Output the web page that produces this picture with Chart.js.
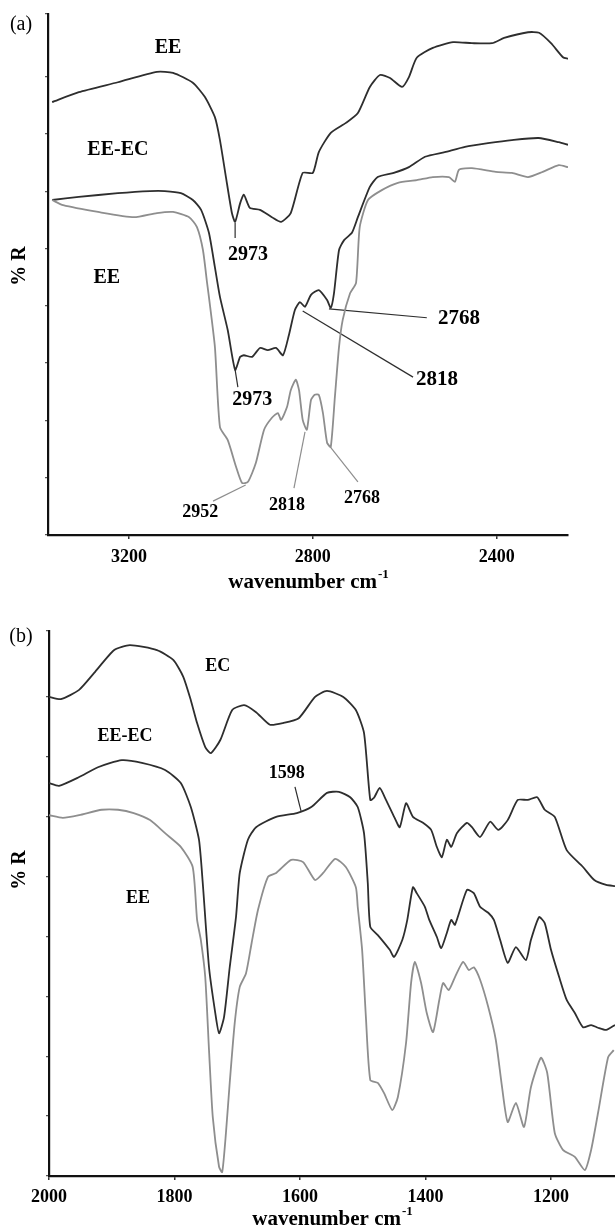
<!DOCTYPE html>
<html><head><meta charset="utf-8">
<script src="https://cdn.jsdelivr.net/npm/chart.js@4.4.0/dist/chart.umd.min.js"></script>
<style>
html,body{margin:0;padding:0;background:#fff;width:615px;height:1231px;overflow:hidden}
canvas{position:absolute;left:0}
#ca{top:0}
#cb{top:605px}
</style></head><body>
<canvas id="ca" width="615" height="605"></canvas>
<canvas id="cb" width="615" height="626"></canvas>
<script>
// ---------- Panel (a): 3375 - 2245 cm-1 ----------
const aTicks = [3200, 2800, 2400];
const aEE_w = [3367,3309,3224,3139,3104,3061,3035,3013,3002,2989,2976,2969,2958,2950,2937,2915,2889,2869,2848,2822,2800,2787,2761,2728,2702,2676,2654,2632,2606,2591,2574,2539,2495,2454,2410,2384,2332,2308,2282,2256,2245];
const aEE_r = [83.1,85.0,86.9,88.9,88.7,86.8,84.1,80.2,75.8,68.7,61.8,60.1,63.7,65.3,62.8,62.4,61.0,60.1,61.8,69.5,69.5,73.5,77.2,79.1,81.0,86.0,88.3,87.7,86.0,87.9,91.6,93.5,94.6,94.4,94.4,95.4,96.5,96.4,94.4,91.7,91.4];
const aEEEC_w = [3367,3309,3224,3154,3122,3087,3061,3043,3026,3013,3002,2985,2969,2958,2950,2932,2915,2898,2880,2865,2852,2839,2828,2817,2804,2787,2769,2761,2754,2743,2732,2715,2702,2676,2659,2624,2591,2556,2513,2469,2419,2367,2309,2265,2245];
const aEEEC_r = [64.3,64.9,65.6,66.0,66.0,65.6,64.3,62.4,58.0,51.4,45.7,39.3,31.7,34.2,34.5,34.2,35.9,35.5,35.9,34.5,38.4,43.2,44.7,43.8,46.1,47.0,45.1,43.6,46.4,54.7,56.6,58.0,61.0,66.8,68.7,69.5,70.6,72.6,73.5,74.5,75.2,75.8,76.2,75.4,74.9];
const aEE2_w = [3367,3343,3267,3189,3139,3104,3069,3052,3039,3030,3026,3013,3002,2985,2967,2954,2941,2924,2906,2889,2876,2869,2856,2848,2837,2830,2822,2813,2804,2796,2787,2778,2769,2761,2752,2743,2735,2719,2706,2698,2680,2650,2615,2574,2539,2504,2491,2482,2454,2402,2367,2332,2300,2265,2245];
const aEE2_r = [64.3,63.3,62.0,61.0,61.8,62.0,61.0,59.1,54.7,48.4,45.7,36.1,20.7,18.2,13.1,10.0,10.2,13.8,20.2,22.5,23.4,22.1,24.6,27.8,29.8,27.8,22.1,20.2,25.9,26.9,26.9,23.4,17.7,16.9,26.5,36.1,41.3,46.4,48.4,59.1,64.3,66.2,67.6,68.1,68.7,68.7,67.8,70.1,70.4,69.7,69.5,68.7,69.7,71.0,70.6];
// peak annotations (a)
const aAnnText = ['2973','2973','2768','2818','2952','2818','2768'];
const aAnnTx   = [2941,2932,2482,2530,3045,2856,2693];
const aAnnTy   = [53.7,25.9,41.5,29.9,4.4,5.6,7.1];
const aAnnX0   = [2969,2969,2765,2822,3017,2841,2769];
const aAnnY0   = [59.9,31.7,43.4,43.0,6.5,9.0,17.7];
const aAnnX1   = [2969,2963,2552,2582,2946,2817,2702];
const aAnnY1   = [57.0,28.4,41.7,30.3,9.6,19.8,10.2];
const aSeriesNames = ['EE','EE-EC','EE'];
const aSeriesTx = [3115,3224,3248];
const aSeriesTy = [93.5,73.9,49.3];

// ---------- Panel (b): 2000 - 1098 cm-1 ----------
const bTicks = [2000, 1800, 1600, 1400, 1200];
const bEC_w = [2000,1981,1952,1928,1896,1871,1828,1802,1786,1774,1764,1751,1742,1727,1708,1689,1670,1648,1627,1602,1576,1557,1531,1511,1498,1488,1482,1473,1463,1450,1441,1431,1420,1404,1391,1382,1374,1366,1359,1350,1334,1326,1313,1297,1284,1269,1253,1237,1222,1210,1194,1175,1149,1131,1112,1098];
const bEC_r = [87.9,87.5,89.2,92.3,96.5,97.4,96.5,94.7,91.6,87.3,83.1,78.7,77.6,80.0,85.5,86.4,85.1,82.8,83.1,84.0,87.9,89.0,87.9,85.5,81.3,69.0,69.4,71.2,69.0,65.9,64.0,68.4,65.9,64.8,63.5,60.4,58.5,61.7,60.4,62.9,64.8,64.0,62.2,65.0,63.5,65.3,69.0,69.0,69.5,67.2,65.9,59.8,56.7,54.3,53.4,53.2];
const bEEEC_w = [2000,1984,1952,1922,1884,1852,1815,1790,1774,1761,1755,1745,1735,1729,1721,1712,1702,1696,1683,1670,1638,1605,1582,1557,1538,1520,1508,1498,1492,1488,1476,1457,1450,1437,1429,1420,1414,1401,1394,1382,1375,1366,1359,1353,1334,1323,1313,1300,1291,1281,1269,1256,1240,1232,1219,1210,1200,1187,1175,1162,1149,1136,1125,1112,1098];
const bEEEC_r = [72.1,71.6,73.2,75.0,76.3,75.8,74.5,72.1,67.7,61.7,53.8,38.3,29.9,26.2,29.2,38.3,47.5,55.6,61.7,64.0,65.9,66.6,67.7,70.3,70.5,69.5,67.7,62.9,53.8,45.7,44.2,41.5,40.2,43.3,47.0,53.0,51.9,49.4,47.0,43.9,41.8,44.6,47.0,46.1,52.5,51.9,49.4,48.3,47.0,43.3,39.1,42.0,39.6,43.3,47.5,46.4,41.5,36.5,32.3,29.9,27.3,27.7,27.2,26.8,27.7];
const bEE_w = [2000,1978,1952,1916,1890,1865,1839,1815,1790,1771,1764,1758,1751,1745,1739,1729,1724,1718,1712,1704,1696,1686,1677,1667,1651,1638,1614,1595,1576,1563,1544,1527,1511,1508,1501,1495,1488,1476,1466,1453,1444,1431,1423,1417,1407,1398,1388,1378,1372,1363,1353,1340,1331,1323,1313,1300,1288,1278,1269,1256,1243,1232,1216,1206,1194,1181,1162,1146,1136,1125,1109,1100];
const bEE_r = [66.2,65.7,66.2,67.2,67.2,66.6,65.3,62.9,60.4,56.7,47.0,43.3,36.5,23.1,10.8,1.7,0.7,7.9,17.1,28.1,34.7,37.2,42.8,48.8,54.9,55.6,58.0,57.6,54.3,55.6,58.2,56.7,53.0,49.4,41.5,29.2,17.6,17.1,15.2,12.1,14.5,24.4,35.4,39.3,35.4,29.9,26.4,32.3,35.4,34.1,36.5,39.3,37.8,38.3,36.0,31.0,25.0,16.3,9.9,13.4,9.0,16.3,21.7,18.9,7.9,4.8,3.5,1.1,4.8,11.6,21.8,23.1];
const bAnnText = ['1598'];
const bAnnTx = [1621];
const bAnnTy = [73.9];
const bAnnX0 = [1608];
const bAnnY0 = [71.4];
const bAnnX1 = [1598];
const bAnnY1 = [66.8];
const bSeriesNames = ['EC','EE-EC','EE'];
const bSeriesTx = [1731,1879,1858];
const bSeriesTy = [93.6,80.6,51.0];

// ---------- helpers ----------
const DARK = '#2e2e2e', GRAY = '#8e8e8e';
const SERIF = '"Liberation Serif","Times New Roman",serif';

function pts(w, r){ return w.map((x,i)=>({x:x, y:r[i]})); }
function spectrum(w, r, color){
  return {data: pts(w,r), borderColor: color, borderWidth: 1.8, pointRadius: 0, tension: 0.2, fill: false};
}
function pointers(x0,y0,x1,y1,colors){
  return x0.map((_,i)=>({data:[{x:x0[i],y:y0[i]},{x:x1[i],y:y1[i]}], borderColor: colors[i], borderWidth: 1.2, pointRadius: 0, tension: 0, fill:false}));
}

const textPlugin = {
  id: 'texts',
  afterDraw(chart, args, o){
    const ctx = chart.ctx, xs = chart.scales.x, ys = chart.scales.y, ca = chart.chartArea;
    ctx.save();
    ctx.fillStyle = '#000';
    ctx.textAlign = 'center'; ctx.textBaseline = 'middle';
    (o.items||[]).forEach(it=>{
      ctx.font = it.font;
      ctx.fillText(it.text, xs.getPixelForValue(it.x), ys.getPixelForValue(it.y));
    });
    // panel letter
    ctx.font = '20px ' + SERIF;
    ctx.fillText(o.letter, o.letterX, o.letterY);
    // y title (rotated)
    ctx.save();
    ctx.translate(o.yTitleX, o.yTitleY);
    ctx.rotate(-Math.PI/2);
    ctx.font = 'bold 20px ' + SERIF;
    ctx.fillText('% R', 0, 0);
    ctx.restore();
    // x title with superscript
    ctx.textBaseline = 'alphabetic';
    ctx.textAlign = 'left';
    ctx.font = 'bold 21px ' + SERIF;
    const main = 'wavenumber cm';
    const wm = ctx.measureText(main).width;
    ctx.font = 'bold 13px ' + SERIF;
    const sup = '-1';
    const ws = ctx.measureText(sup).width;
    const cx = (ca.left + ca.right)/2;
    const x0 = cx - (wm + ws)/2;
    ctx.font = 'bold 21px ' + SERIF;
    ctx.fillText(main, x0, o.xTitleBase);
    ctx.font = 'bold 13px ' + SERIF;
    ctx.fillText(sup, x0 + wm + 1, o.xTitleBase - 10);
    ctx.restore();
  }
};

function makeItems(names, tx, ty, nfont, at, ax, ay, afonts){
  const items = names.map((n,i)=>({text:n, x:tx[i], y:ty[i], font:nfont}));
  at.forEach((t,i)=>items.push({text:t, x:ax[i], y:ay[i], font:afonts[i]}));
  return items;
}

function makeChart(id, cfg){
  return new Chart(document.getElementById(id), {
    type: 'line',
    data: {datasets: cfg.datasets},
    plugins: [textPlugin],
    options: {
      responsive: false, animation: false, devicePixelRatio: 1,
      layout: {padding: cfg.padding},
      plugins: {legend:{display:false}, tooltip:{enabled:false}, texts: cfg.texts},
      scales: {
        x: {
          type: 'linear', reverse: true, min: cfg.xmin, max: cfg.xmax,
          afterBuildTicks: s => { s.ticks = cfg.ticks.map(v=>({value:v})); },
          afterFit: s => { s.height = cfg.xh; },
          border: {display:true, color:'#111', width:2.2},
          grid: {display:true, drawOnChartArea:false, drawTicks:true, tickLength:4, color:'#333', lineWidth:1.5},
          ticks: {color:'#000', font:{family:SERIF, size:18, weight:'bold'}, padding: cfg.tpad, maxRotation:0, autoSkip:false,
                  callback: v => String(v)}
        },
        y: {
          min: 0, max: 100,
          afterFit: s => { s.width = cfg.yw; },
          border: {display:true, color:'#111', width:2.2},
          grid: {display:true, drawOnChartArea:false, drawTicks:true, tickLength:3, color:'#555', lineWidth:1.2},
          ticks: {display:false, stepSize: 11}
        }
      }
    }
  });
}

makeChart('ca', {
  xmin: 2245, xmax: 3376, ticks: aTicks, xh: 70, yw: 48, tpad: 8,
  padding: {left:0, right:47, top:14, bottom:0},
  datasets: [
    spectrum(aEE2_w, aEE2_r, GRAY),
    spectrum(aEEEC_w, aEEEC_r, DARK),
    spectrum(aEE_w, aEE_r, DARK),
    ...pointers(aAnnX0, aAnnY0, aAnnX1, aAnnY1, [DARK,DARK,DARK,DARK,GRAY,GRAY,GRAY])
  ],
  texts: {
    items: makeItems(aSeriesNames, aSeriesTx, aSeriesTy, 'bold 20px '+SERIF, aAnnText, aAnnTx, aAnnTy,
      ['bold 20px '+SERIF,'bold 20px '+SERIF,'bold 21px '+SERIF,'bold 21px '+SERIF,'bold 18px '+SERIF,'bold 18px '+SERIF,'bold 18px '+SERIF]),
    letter: '(a)', letterX: 21, letterY: 25, yTitleX: 20, yTitleY: 266, xTitleBase: 588
  }
});

makeChart('cb', {
  xmin: 1098, xmax: 2000, ticks: bTicks, xh: 55, yw: 49, tpad: 7,
  padding: {left:0, right:0, top:26, bottom:0},
  datasets: [
    spectrum(bEE_w, bEE_r, GRAY),
    spectrum(bEEEC_w, bEEEC_r, DARK),
    spectrum(bEC_w, bEC_r, DARK),
    ...pointers(bAnnX0, bAnnY0, bAnnX1, bAnnY1, [DARK])
  ],
  texts: {
    items: makeItems(bSeriesNames, bSeriesTx, bSeriesTy, 'bold 18px '+SERIF, bAnnText, bAnnTx, bAnnTy, ['bold 18px '+SERIF]),
    letter: '(b)', letterX: 21, letterY: 32, yTitleX: 20, yTitleY: 265, xTitleBase: 620
  }
});
</script>
</body></html>
